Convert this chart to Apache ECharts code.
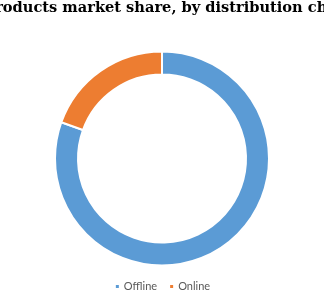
<!DOCTYPE html>
<html>
<head>
<meta charset="utf-8">
<script src="https://cdn.jsdelivr.net/npm/echarts@6/dist/echarts.min.js"></script>
<style>html,body{margin:0;padding:0;background:#fff;}#c{width:324px;height:300px;}</style>
</head>
<body>
<div id="c"></div>
<script>
const titleText = "Hair care products market share, by distribution channel, 2020 (%)";
const categories = ["Offline", "Online"];
const shares = [80.5, 19.5];
const colors = ["#5B9BD5", "#ED7D31"];

const chart = echarts.init(document.getElementById('c'), null, {renderer: 'canvas'});
chart.setOption({
  animation: false,
  backgroundColor: '#ffffff',
  title: {
    text: titleText,
    left: -97,
    top: 1,
    padding: 0,
    textStyle: {fontFamily: 'DejaVu Serif', fontWeight: 'bold', fontSize: 14.6, color: '#000'}
  },
  legend: {
    data: categories,
    top: 281,
    left: 'center',
    padding: 0,
    icon: 'rect',
    itemWidth: 5,
    itemHeight: 5,
    itemGap: 11,
    textStyle: {fontFamily: 'Lato', fontSize: 11, color: '#595959', padding: [0, 0, 0, -1]}
  },
  series: [{
    type: 'pie',
    center: [162, 158.5],
    radius: [84, 107],
    startAngle: 90,
    clockwise: true,
    label: {show: false},
    labelLine: {show: false},
    itemStyle: {borderColor: '#fff', borderWidth: 2},
    emphasis: {disabled: true},
    data: categories.map((n, i) => ({name: n, value: shares[i], itemStyle: {color: colors[i]}}))
  }]
});
</script>
</body>
</html>
